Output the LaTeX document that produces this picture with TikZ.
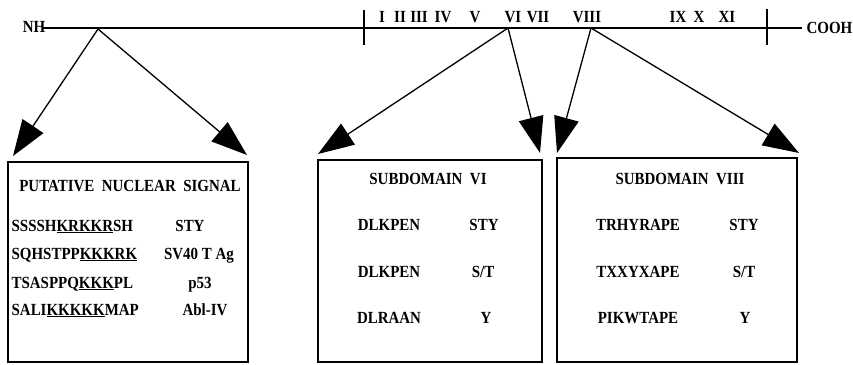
\documentclass[tikz,border=0pt]{standalone}
\usepackage{fontspec}
\setmainfont[FakeStretch=0.88]{Liberation Serif}
\usetikzlibrary{arrows.meta}
\begin{document}
\begin{tikzpicture}[x=1pt,y=-1pt,line width=1.3pt,
  lbl/.style={font=\fontsize{17}{20}\selectfont\bfseries,inner sep=0pt,anchor=base},
  lblw/.style={lbl,anchor=base west},
  boxst/.style={draw,line width=1.3pt,inner sep=0pt},
  bigarrow/.style={-{Triangle[length=36pt,width=25pt]},line width=1.3pt}]
\useasboundingbox (0,0) rectangle (853,364);
% main chain
\coordinate (lstart) at (43,28);
\coordinate (lend) at (802,28);
\draw (lstart) -- (lend);
\node[lbl] (nh) at (34,32) {NH};
\node[lblw] (cooh) at (806,33) {COOH};
% ticks
\coordinate (t1a) at (364,10); \coordinate (t1b) at (364,45);
\coordinate (t2a) at (767,9);  \coordinate (t2b) at (767,45);
\draw (t1a) -- (t1b);
\draw (t2a) -- (t2b);
% subdomain numerals
\node[lbl] (r1) at (382,22) {I};
\node[lbl] (r2) at (400,22) {II};
\node[lbl] (r3) at (419,22) {III};
\node[lbl] (r4) at (443,22) {IV};
\node[lbl] (r5) at (475,22) {V};
\node[lbl] (r6) at (513,22) {VI};
\node[lbl] (r7) at (538,22) {VII};
\node[lbl] (r8) at (587,22) {VIII};
\node[lbl] (r9) at (678,22) {IX};
\node[lbl] (r10) at (699,22) {X};
\node[lbl] (r11) at (727,22) {XI};
% arrow origins and tips
\coordinate (pN) at (98,29);
\coordinate (p6) at (508,28);
\coordinate (p8) at (591,28);
\coordinate (a1) at (13,156);
\coordinate (a2) at (247,155);
\coordinate (a3) at (318,154);
\coordinate (a4) at (540,153);
\coordinate (a5) at (557,153);
\coordinate (a6) at (799,153);
\draw[bigarrow] (pN) -- (a1);
\draw[bigarrow] (pN) -- (a2);
\draw[bigarrow] (p6) -- (a3);
\draw[bigarrow] (p6) -- (a4);
\draw[bigarrow] (p8) -- (a5);
\draw[bigarrow] (p8) -- (a6);
% boxes
\node[boxst,minimum width=240pt,minimum height=200pt] (box1) at (128,262) {};
\node[boxst,minimum width=224pt,minimum height=202pt] (box2) at (430,261) {};
\node[boxst,minimum width=240pt,minimum height=204pt] (box3) at (677,260) {};
% box 1
\node[lbl] (t1) at (130,191) {PUTATIVE\ \ NUCLEAR\ \ SIGNAL};
\node[lblw] (s11) at (11,231) {SSSSH\underline{KRKKR}SH};
\node[lblw] (s12) at (11,259) {SQHSTPP\underline{KKKRK}};
\node[lblw] (s13) at (11,288) {TSASPPQ\underline{KKK}PL};
\node[lblw] (s14) at (11,315) {SALI\underline{KKKKK}MAP};
\node[lbl] (k11) at (190,231) {STY};
\node[lbl] (k12) at (199,259) {SV40 T Ag};
\node[lbl] (k13) at (200,288) {p53};
\node[lbl] (k14) at (205,315) {Abl-IV};
% box 2
\node[lbl] (t2) at (428,184) {SUBDOMAIN\ \ VI};
\node[lbl] (s21) at (389,230) {DLKPEN};
\node[lbl] (s22) at (389,277) {DLKPEN};
\node[lbl] (s23) at (389,323) {DLRAAN};
\node[lbl] (k21) at (484,230) {STY};
\node[lbl] (k22) at (483,277) {S/T};
\node[lbl] (k23) at (486,323) {Y};
% box 3
\node[lbl] (t3) at (680,184) {SUBDOMAIN\ \ VIII};
\node[lbl] (s31) at (638,230) {TRHYRAPE};
\node[lbl] (s32) at (638,277) {TXXYXAPE};
\node[lbl] (s33) at (638,323) {PIKWTAPE};
\node[lbl] (k31) at (744,230) {STY};
\node[lbl] (k32) at (744,277) {S/T};
\node[lbl] (k33) at (745,323) {Y};
\end{tikzpicture}
\end{document}
